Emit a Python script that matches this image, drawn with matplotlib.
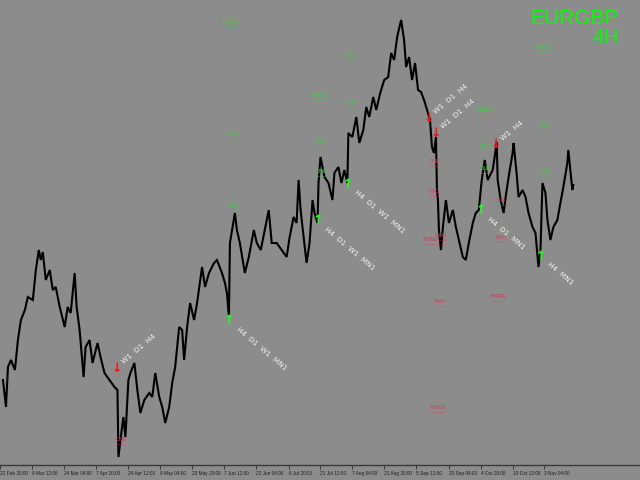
import matplotlib
matplotlib.use("Agg")
import matplotlib.pyplot as plt

# EURGBP 4H closes (bar position, price)
bar_x = [0, 3, 5, 8, 12, 15, 18, 22, 25, 30, 33, 36, 38, 40, 43, 47, 50, 53, 57, 62,
         65, 68, 72, 74, 77, 81, 83, 87, 90, 95, 98, 102, 107, 112, 115, 116, 118, 121, 123, 126,
         128, 132, 135, 138, 142, 147, 150, 153, 157, 160, 163, 167, 170, 173, 177, 180, 182, 185, 188, 192,
         195, 200, 203, 207, 212, 215, 220, 223, 225, 227, 228, 233, 235, 238, 243, 247, 252, 255, 259, 263,
         267, 270, 275, 280, 285, 288, 292, 295, 297, 299, 302, 305, 308, 311, 313, 316, 317, 319, 323, 327,
         331, 333, 337, 340, 343, 346, 347, 351, 355, 358, 362, 365, 368, 372, 375, 379, 383, 387, 390, 393,
         396, 400, 403, 405, 408, 411, 414, 417, 420, 423, 427, 429, 431, 433, 435, 436, 437, 438, 440, 442,
         445, 448, 452, 455, 458, 462, 465, 468, 472, 475, 478, 481, 484, 487, 492, 494, 496, 497, 500, 503,
         505, 508, 512, 513, 516, 518, 522, 525, 528, 532, 535, 538, 540, 542, 545, 547, 550, 553, 557, 560,
         563, 567, 568, 570, 572, 573]
close = [0.8590, 0.8536, 0.8616, 0.8630, 0.8610, 0.8670, 0.8710, 0.8730, 0.8756, 0.8750,
         0.8810, 0.8850, 0.8830, 0.8846, 0.8790, 0.8810, 0.8770, 0.8776, 0.8736, 0.8696,
         0.8736, 0.8724, 0.8804, 0.8736, 0.8690, 0.8596, 0.8656, 0.8670, 0.8624, 0.8664,
         0.8636, 0.8604, 0.8590, 0.8576, 0.8570, 0.8436, 0.8470, 0.8516, 0.8476, 0.8590,
         0.8604, 0.8624, 0.8570, 0.8524, 0.8550, 0.8564, 0.8556, 0.8604, 0.8556, 0.8536,
         0.8504, 0.8536, 0.8584, 0.8616, 0.8696, 0.8690, 0.8630, 0.8696, 0.8744, 0.8710,
         0.8744, 0.8816, 0.8776, 0.8804, 0.8824, 0.8830, 0.8804, 0.8784, 0.8764, 0.8716,
         0.8864, 0.8924, 0.8890, 0.8864, 0.8804, 0.8836, 0.8890, 0.8864, 0.8850, 0.8890,
         0.8930, 0.8864, 0.8864, 0.8850, 0.8836, 0.8876, 0.8916, 0.8904, 0.8990, 0.8930,
         0.8876, 0.8824, 0.8864, 0.8950, 0.8924, 0.8904, 0.8984, 0.9036, 0.8996, 0.8984,
         0.8950, 0.9004, 0.9016, 0.8984, 0.9010, 0.8984, 0.9084, 0.9076, 0.9116, 0.9064,
         0.9090, 0.9136, 0.9116, 0.9156, 0.9130, 0.9164, 0.9190, 0.9196, 0.9244, 0.9230,
         0.9276, 0.9310, 0.9270, 0.9216, 0.9236, 0.9190, 0.9224, 0.9170, 0.9166, 0.9150,
         0.9124, 0.9110, 0.9056, 0.9044, 0.9076, 0.8970, 0.8950, 0.8890, 0.8850, 0.8896,
         0.8950, 0.8904, 0.8930, 0.8896, 0.8870, 0.8836, 0.8830, 0.8864, 0.8904, 0.8924,
         0.8930, 0.8990, 0.9030, 0.8990, 0.9010, 0.9036, 0.9066, 0.8990, 0.8950, 0.8924,
         0.8956, 0.8996, 0.9044, 0.9064, 0.9004, 0.8956, 0.8970, 0.8956, 0.8924, 0.8896,
         0.8884, 0.8816, 0.8850, 0.8984, 0.8964, 0.8910, 0.8870, 0.8896, 0.8910, 0.8944,
         0.8976, 0.9024, 0.9050, 0.9010, 0.8970, 0.8980]

# time axis
tick_pos = [-3, 29, 61, 93, 126, 158, 190, 222, 254, 287, 319, 351, 383, 415, 448, 480, 512, 544]
tick_lbl = ["22 Feb 20:00", "9 Mar 12:00", "24 Mar 04:00", "7 Apr 20:00", "24 Apr 12:00",
            "9 May 04:00", "23 May 20:00", "7 Jun 12:00", "22 Jun 04:00", "6 Jul 20:00",
            "21 Jul 12:00", "7 Aug 04:00", "21 Aug 20:00", "5 Sep 12:00", "20 Sep 04:00",
            "4 Oct 20:00", "19 Oct 12:00", "3 Nov 04:00"]

# signals
sell_x = [114, 428, 435, 495]
sell_p = [0.8614, 0.9114, 0.9084, 0.9060]
sell_tf = ["W1  D1  H4", "W1  D1  H4", "W1  D1  H4", "W1  H4"]
buy_x = [227, 316, 346, 480, 540]
buy_p = [0.8708, 0.8908, 0.8982, 0.8928, 0.8838]
buy_tf = ["H4  D1  W1  MN1", "H4  D1  W1  MN1", "H4  D1  W1  MN1", "H4  D1  MN1", "H4  MN1"]

# take-profit marks
tp_buy_x = [229, 350, 318, 350, 232, 320, 320, 232, 543, 483, 545, 484, 485, 545]
tp_buy_p = [0.9304, 0.9236, 0.9156, 0.9142, 0.9078, 0.9064, 0.9004, 0.8936,
            0.9252, 0.9126, 0.9096, 0.9054, 0.9010, 0.9004]
tp_buy_n = ["THREE", "TWO", "THREE", "ONE", "TWO", "TWO", "ONE", "ONE",
            "THREE", "THREE", "TWO", "TWO", "ONE", "ONE"]
tp_sell_x = [119, 433, 433, 431, 441, 500, 500, 498, 439, 437]
tp_sell_p = [0.8468, 0.9024, 0.8964, 0.8868, 0.8876, 0.8946, 0.8872, 0.8754, 0.8744, 0.8532]
tp_sell_n = ["ONE", "ONE", "TWO", "THREE", "ONE", "ONE", "TWO", "THREE", "TWO", "THREE"]

bg = "#8c8c8c"
fig = plt.figure(figsize=(6.4, 4.8), dpi=100, facecolor=bg)
ax = fig.add_axes([0, 15 / 480, 1, 465 / 480], facecolor=bg)
ax.set_xlim(0, 640)
ax.set_ylim(0.842, 0.935)

for n, x, p in zip(tp_buy_n, tp_buy_x, tp_buy_p):
    ax.text(x, p, n + "\n" + "_" * len(n), color="#3ad23a", fontsize=3.8,
            ha="center", va="center", linespacing=0.55, family="Liberation Sans")
for n, x, p in zip(tp_sell_n, tp_sell_x, tp_sell_p):
    ax.text(x, p, n + "\n" + "_" * len(n), color="#d8365f", fontsize=3.8,
            ha="center", va="center", linespacing=0.55, family="Liberation Sans")

ax.plot(bar_x, close, color="black", lw=1.5, solid_joinstyle="miter")

for x, p, tf in zip(sell_x, sell_p, sell_tf):
    ax.text(x, p, "\u2193", color="#ff1010", fontsize=9, fontweight="bold",
            ha="center", va="center")
    ax.annotate(tf, (x, p), xytext=(6, 6), textcoords="offset pixels", color="#f2f2f2",
                fontsize=5.3, rotation=40, rotation_mode="anchor", ha="left", va="center")
for x, p, tf in zip(buy_x, buy_p, buy_tf):
    ax.text(x, p, "\u2191", color="#20ff20", fontsize=9, fontweight="bold",
            ha="center", va="center")
    ax.annotate(tf, (x, p), xytext=(8, -7), textcoords="offset pixels", color="#f2f2f2",
                fontsize=5.3, rotation=-40, rotation_mode="anchor", ha="left", va="center")

for s in ["top", "left", "right"]:
    ax.spines[s].set_visible(False)
ax.spines["bottom"].set_color("#3a3a3a")
ax.spines["bottom"].set_linewidth(1.0)
ax.set_yticks([])
ax.set_xticks(tick_pos)
ax.set_xticklabels(tick_lbl, family="Liberation Sans")
ax.tick_params(axis="x", length=3, width=0.6, color="#2a2a2a", labelsize=3.4,
               labelcolor="#1e1e1e", pad=1.5)
for lab in ax.get_xticklabels():
    lab.set_ha("left")

fig.text(619 / 640, 1 - 24 / 480, "EURGBP", color="#00ff00", fontsize=15,
         ha="right", va="baseline", family="Liberation Sans")
fig.text(619 / 640, 1 - 43 / 480, "4H", color="#00ff00", fontsize=15,
         ha="right", va="baseline", family="Liberation Sans")

fig.savefig("out.png", dpi=100, facecolor=bg)
